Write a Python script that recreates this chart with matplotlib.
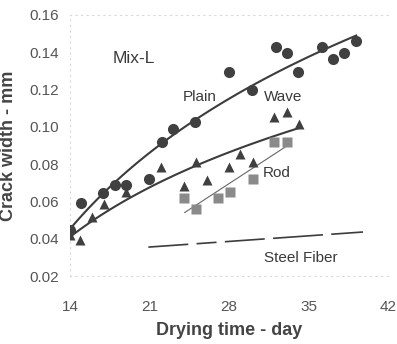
import numpy as np
import matplotlib
matplotlib.use("Agg")
import matplotlib.pyplot as plt

plt.rcParams['font.family'] = ['Liberation Sans', 'DejaVu Sans']

# Plain (circles)
plain_days = [14.0, 15.0, 16.9, 18.0, 18.9, 21.0, 22.1, 23.1, 25.0, 28.0, 30.0,
              32.1, 33.1, 34.1, 36.2, 37.2, 38.1, 39.2]
plain_width = [0.0447, 0.0591, 0.0645, 0.0688, 0.0688, 0.0720, 0.0918, 0.0988,
               0.1026, 0.1294, 0.1197, 0.1428, 0.1396, 0.1294, 0.1428, 0.1363,
               0.1396, 0.1460]

# Wave (triangles)
wave_days = [14.0, 14.9, 15.9, 17.0, 18.9, 22.0, 24.0, 25.1, 26.1, 28.0, 29.0,
             30.1, 32.0, 33.1, 34.2]
wave_width = [0.0420, 0.0393, 0.0516, 0.0586, 0.0650, 0.0784, 0.0683, 0.0810,
              0.0715, 0.0784, 0.0854, 0.0810, 0.1053, 0.1080, 0.1015]

# Rod (squares)
rod_days = [24.0, 25.1, 27.0, 28.1, 30.1, 32.0, 33.1]
rod_width = [0.0618, 0.0560, 0.0618, 0.0650, 0.0720, 0.0918, 0.0918]

# Steel fiber trend (dashed, no markers shown)
fiber_days = [20.9, 39.8]
fiber_width = [0.0355, 0.0436]

xticks = [14, 21, 28, 35, 42]
yticks = [0.02, 0.04, 0.06, 0.08, 0.10, 0.12, 0.14, 0.16]

fig = plt.figure(figsize=(3.97, 3.44), dpi=100)
ax = fig.add_axes([70 / 397, 1 - 276 / 344, 318 / 397, 261 / 344])

dark = '#3c3c3c'
tick_gray = '#555555'

# log trend lines for Plain and Wave, linear for Rod
def log_fit(x, y, x0, x1):
    c = np.polyfit(np.log(x), y, 1)
    xs = np.linspace(x0, x1, 100)
    return xs, c[0] * np.log(xs) + c[1]

xs, ys = log_fit(plain_days, plain_width, 13.8, 39.2)
ax.plot(xs, ys, color=dark, lw=1.5, zorder=2)
xs, ys = log_fit(wave_days, wave_width, 13.8, 34.3)
ax.plot(xs, ys, color=dark, lw=1.5, zorder=2)
c = np.polyfit(rod_days, rod_width, 1)
xs = np.array([24.1, 33.1])
ax.plot(xs, c[0] * xs + c[1], color='#666666', lw=0.8, zorder=2)

ax.plot(fiber_days, fiber_width, color=dark, lw=1.2,
        dashes=(24, 5, 12, 5, 24, 5, 30, 5), zorder=2)

ax.plot(plain_days, plain_width, 'o', color='#404040', ms=8, mec='none', zorder=3)
ax.plot(wave_days, wave_width, '^', color='#404040', ms=7, mec='none', zorder=3)
ax.plot(rod_days, rod_width, 's', color='#8a8a8a', ms=7.5, mec='none', zorder=3)

txt = dict(color='#3a3a3a', fontsize=11)
ax.text(19.6, 0.1369, 'Mix-L', ha='center', va='center', color='#3a3a3a',
        fontsize=12.5)
ax.text(25.4, 0.1160, 'Plain', ha='center', va='center', **txt)
ax.text(32.8, 0.1160, 'Wave', ha='center', va='center', **txt)
ax.text(32.2, 0.0752, 'Rod', ha='center', va='center', **txt)
ax.text(34.3, 0.0297, 'Steel Fiber', ha='center', va='center', **txt)

ax.set_xlim(14, 42)
ax.set_ylim(0.02, 0.16)
ax.set_xticks(xticks)
ax.set_yticks(yticks)
ax.set_xticklabels([str(t) for t in xticks])
ax.set_yticklabels(['%.2f' % t for t in yticks])
ax.tick_params(axis='both', length=0, labelsize=11, colors=tick_gray)
ax.tick_params(axis='x', pad=17)
ax.tick_params(axis='y', pad=8)

ax.spines['right'].set_visible(False)
for side in ['left', 'bottom', 'top']:
    ax.spines[side].set_color('#d8d8d8')
    ax.spines[side].set_linestyle((0, (1, 4)))
    ax.spines[side].set_linewidth(0.8)

ax.set_xlabel('Drying time - day', fontsize=13, fontweight='bold',
              color='#444444', labelpad=6)
ax.set_ylabel('Crack width - mm', fontsize=13, fontweight='bold',
              color='#444444')
ax.yaxis.set_label_coords(-53 / 318, 0.5)

fig.savefig('out.png', dpi=100)
